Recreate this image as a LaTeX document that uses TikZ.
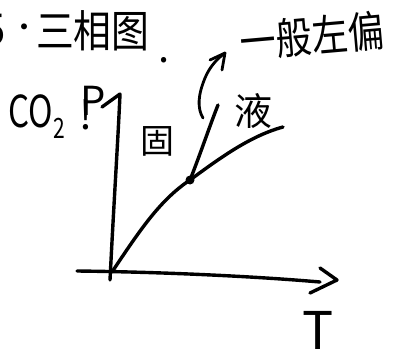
\documentclass[tikz,border=0pt]{standalone}
\usepackage{fontspec}
\newfontfamily\cjk{Noto Sans CJK SC}
\tikzset{
  ink/.style={line width=3.4pt, line cap=round, line join=round, black},
  lbl/.style={inner sep=0pt, outer sep=0pt, font=\cjk},
}
\begin{document}
\begin{tikzpicture}[x=1pt,y=-1pt]
\useasboundingbox (0,0) rectangle (393,358);
\clip (0,0) rectangle (393,358);
% title
\node[lbl, font=\cjk\fontsize{44}{44}\selectfont, anchor=east] (num) at (6,30) {5};
\node[lbl, font=\cjk\fontsize{28}{28}\selectfont] (dot) at (24,31) {·};
\node[lbl, font=\cjk\fontsize{44}{44}\selectfont, xscale=0.86, anchor=west] (title) at (36,31) {三相图};
\node[lbl, font=\cjk\fontsize{40}{40}\selectfont] (period) at (164,60) {.};
% note
\node[lbl, font=\cjk\fontsize{36}{36}\selectfont, rotate=5, yscale=1.2] (note) at (312,36) {一般左偏};
% axis labels
\node[lbl, font=\cjk\fontsize{44}{44}\selectfont, xscale=0.75] (co2) at (37,117) {CO\raisebox{-0.25em}{\fontsize{28}{28}\selectfont 2}};
\node[lbl, font=\cjk\fontsize{40}{40}\selectfont, anchor=west] (p) at (80,108) {P\kern-0.64em\raisebox{-0.35em}{!}};
\node[lbl, font=\cjk\fontsize{52}{52}\selectfont] (t) at (318,330) {T};
% region labels
\node[lbl, font=\cjk\fontsize{34}{34}\selectfont] (solid) at (157,141) {固};
\node[lbl, font=\cjk\fontsize{38}{38}\selectfont] (liquid) at (253,111) {液};
% key points
\coordinate (o) at (112,272);
\coordinate (vb) at (110,280);
\coordinate (vt) at (120,94);
\coordinate (vh) at (102,107);
\coordinate (hl) at (77,271);
\coordinate (hr) at (320,282);
\coordinate (h1) at (320,268);
\coordinate (h2) at (337,280);
\coordinate (h3) at (310,293);
\coordinate (tp) at (190,180);
\coordinate (melt) at (218,105);
\coordinate (boil) at (283,127);
\coordinate (a0) at (203,118);
\coordinate (atip) at (225,53);
\coordinate (al) at (210,60);
\coordinate (ad) at (222,70);
% axes
\draw[ink] (vb) .. controls (114,200) and (118,140) .. (vt) -- (vh);
\draw[ink] (hl) .. controls (160,272) and (250,276) .. (hr);
\draw[ink] (h1) -- (h2) -- (h3);
% phase boundaries
\draw[ink] (o) .. controls (140,230) and (160,200) .. (tp);
\draw[ink] (tp) .. controls (200,155) and (210,125) .. (melt);
\draw[ink] (tp) .. controls (220,158) and (250,136) .. (boil);
\fill (tp) circle (4.5);
% arrow to note
\draw[ink, line width=2.8pt] (a0) .. controls (197,108) and (198,95) .. (205,78) .. controls (210,66) and (218,58) .. (atip);
\draw[ink, line width=2.8pt] (al) -- (atip) -- (ad);
\end{tikzpicture}
\end{document}
